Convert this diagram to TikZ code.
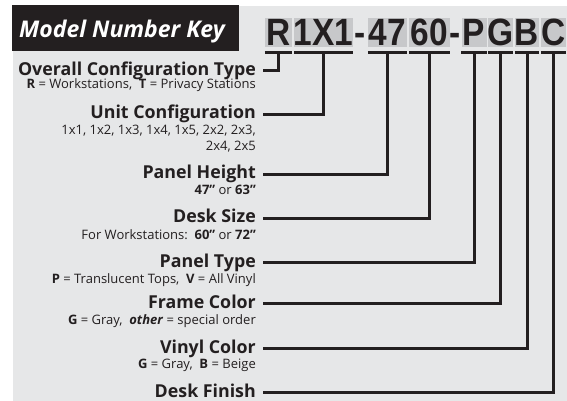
\documentclass[tikz,border=0pt]{standalone}
\usepackage{fontspec}
\setmainfont{Open Sans}
\newfontfamily\hdfont{Liberation Sans}
\usetikzlibrary{calc}
\definecolor{ink}{HTML}{231F20}
\definecolor{panel}{HTML}{E6E7E8}
\definecolor{boxgray}{HTML}{C7C8CA}
\newcommand{\hx}[1]{\scalebox{0.88}[1]{#1}}
\tikzset{
  mainlbl/.style={anchor=base east, inner sep=0pt, text=ink, font=\bfseries\fontsize{17.8}{20}\selectfont},
  sublbl/.style={anchor=base east, inner sep=0pt, text=ink, font=\fontsize{13}{15}\selectfont},
  charbox/.style={fill=boxgray, draw=none, inner sep=0pt, minimum height=29pt, anchor=center},
  hdchar/.style={anchor=base, inner sep=0pt, text=ink, font=\hdfont\bfseries\fontsize{38}{40}\selectfont},
  uline/.style={draw=ink, line width=3pt, line cap=butt},
  conn/.style={draw=ink, line width=3pt, line cap=butt, line join=miter},
}
\begin{document}
\begin{tikzpicture}[x=1pt,y=-1pt]
\useasboundingbox (0,0) rectangle (567,401);
\fill[white] (0,0) rectangle (567,401);
\fill[panel] (12.7,6) rectangle (567,401);
% title
\node[fill=ink, minimum width=227pt, minimum height=45.5pt, inner sep=0pt, anchor=north west] (tbox) at (12,5.3) {};
\node[anchor=base west, inner sep=0pt, text=white, font=\bfseries\itshape\fontsize{23}{26}\selectfont] (title) at (19,38) {Model Number Key};
% header boxes
\node[charbox, minimum width=27pt]  (bR)  at (278.5,32.2) {};
\node[charbox, minimum width=59pt]  (bU)  at (323.5,32.2) {};
\node[charbox, minimum width=39pt]  (bH)  at (387.5,32.2) {};
\node[charbox, minimum width=41pt]  (bD)  at (429.5,32.2) {};
\node[charbox, minimum width=25pt]  (bP)  at (474,32.2) {};
\node[charbox, minimum width=25pt]  (bG)  at (500.5,32.2) {};
\node[charbox, minimum width=24pt]  (bB)  at (527,32.2) {};
\node[charbox, minimum width=25pt]  (bC)  at (553.5,32.2) {};
% header characters
\node[hdchar] (hR) at (278.5,46) {\hx{R}};
\node[hdchar] (hU) at (323.5,46) {\hx{1X1}};
\node[hdchar] (hd1) at (360,46) {\hx{-}};
\node[hdchar] (hH) at (387.5,46) {\hx{47}};
\node[hdchar] (hD) at (429.5,46) {\hx{60}};
\node[hdchar] (hd2) at (455,46) {\hx{-}};
\node[hdchar] (hP) at (474,46) {\hx{P}};
\node[hdchar] (hG) at (500.5,46) {\hx{G}};
\node[hdchar] (hB) at (527,46) {\hx{B}};
\node[hdchar] (hC) at (553.5,46) {\hx{C}};
% underlines
\foreach \b in {bR,bU,bH,bD,bP,bG,bB,bC}{
  \draw[uline] ($(\b.south west)+(0,5.8)$) -- ($(\b.south east)+(0,5.8)$);
}
% labels
\node[mainlbl] (lR) at (256,75.5) {Overall Configuration Type};
\node[sublbl] (sR) at (256,89) {\textbf{R} = Workstations,\ \ \textbf{T} = Privacy Stations};

\node[mainlbl] (lU) at (256,119) {Unit Configuration};
\node[sublbl] (sU1) at (256,134) {1x1, 1x2, 1x3, 1x4, 1x5, 2x2, 2x3,};
\node[sublbl] (sU2) at (256,150) {2x4, 2x5};

\node[mainlbl] (lH) at (256,178.5) {Panel Height};
\node[sublbl] (sH) at (256,194) {\textbf{47”} or \textbf{63”}};

\node[mainlbl] (lD) at (256,222.5) {Desk Size};
\node[sublbl] (sD) at (256,239) {For Workstations:\ \ \textbf{60”} or \textbf{72”}};

\node[mainlbl] (lP) at (256,267) {Panel Type};
\node[sublbl] (sP) at (256,283) {\textbf{P} = Translucent Tops,\ \ \textbf{V} = All Vinyl};

\node[mainlbl] (lG) at (256,308) {Frame Color};
\node[sublbl] (sG) at (256,324) {\textbf{G} = Gray,\ \ \textbf{\itshape other} = special order};

\node[mainlbl] (lB) at (256,353) {Vinyl Color};
\node[sublbl] (sB) at (256,368.5) {\textbf{G} = Gray,\ \ \textbf{B} = Beige};

\node[mainlbl] (lC) at (256,397) {Desk Finish};
% connector ends
\foreach \l/\b in {lR/bR,lU/bU,lH/bH,lD/bD,lP/bP,lG/bG,lB/bB,lC/bC}{
  \coordinate (e\l) at ($(\l.base east)+(7,-4.5)$);
  \draw[conn] ($(\b.south)+(0,4.3)$) |- (e\l);
}
\end{tikzpicture}
\end{document}
